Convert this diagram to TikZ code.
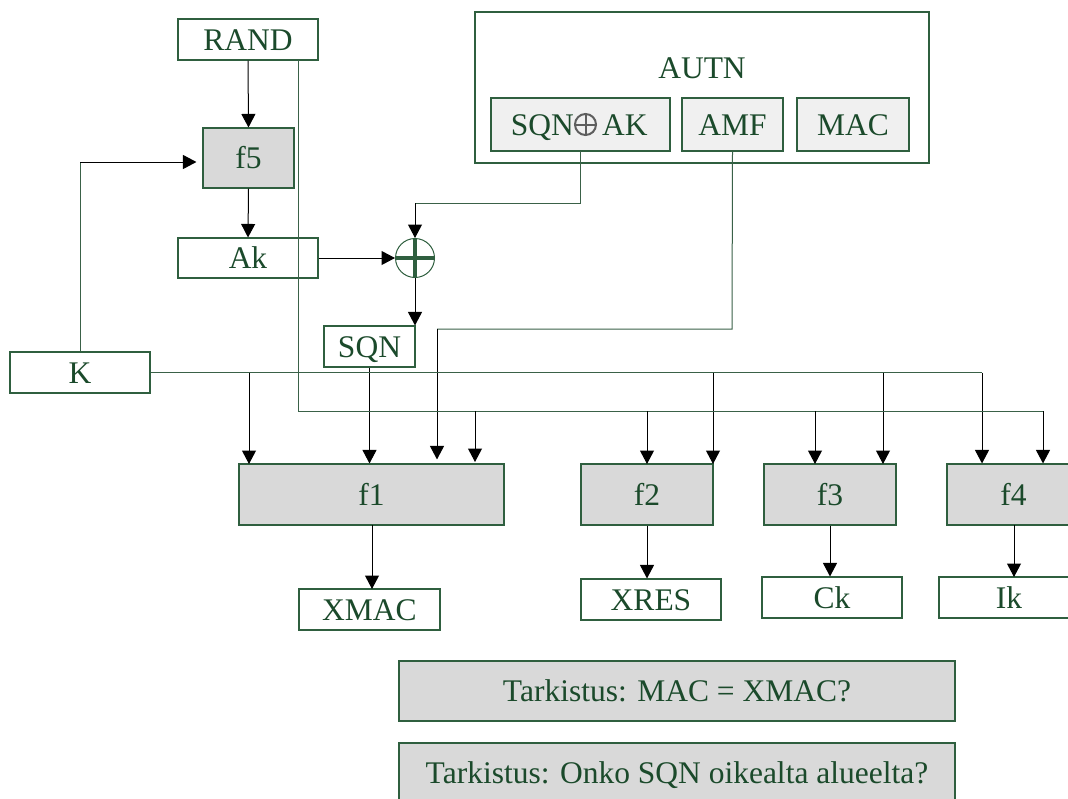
\documentclass[tikz,border=0pt]{standalone}
\usepackage{fontspec}
\setmainfont{Liberation Serif}
\usetikzlibrary{arrows.meta,calc}

\definecolor{txtgreen}{HTML}{1B4A2B}
\definecolor{edgegreen}{HTML}{2F5F3F}
\definecolor{wiregreen}{HTML}{3A6148}
\definecolor{fillgray}{HTML}{D9D9D9}
\definecolor{fillpale}{HTML}{F0F0F0}
\definecolor{symgray}{HTML}{5E5E5E}

\tikzset{
  lbl/.style={text=txtgreen, inner sep=0pt, font=\fontsize{31.5}{36}\selectfont},
  blk/.style={lbl, draw=edgegreen, line width=1.1pt, text height=21pt, text depth=0pt},
  fbox/.style={blk, fill=fillgray},
  subbox/.style={blk, fill=fillpale},
  plainbox/.style={blk, fill=white},
  wire/.style={draw=wiregreen, line width=1pt},
  feed/.style={draw=black, line width=1pt, -{Triangle[length=13.5pt,width=14pt]}},
}

\begin{document}
\begin{tikzpicture}[x=1pt,y=-1pt]
\useasboundingbox (0,0) rectangle (1068,798);
\clip (0,0) rectangle (1068,798);

% AUTN container and its fields
\node[plainbox, minimum width=454, minimum height=151] (autn) at (702,87.5) {};
\node[lbl, text height=21pt, text depth=0pt] (autnlbl) at (702,68) {AUTN};
\node[subbox, minimum width=179, minimum height=53] (sqnak) at (580.5,124.5) {};
\node[lbl, anchor=base east] (sqnpart) at (574,135.5) {SQN};
\node[lbl, anchor=base west] (akpart) at (602,135.5) {AK};
\node[circle, draw=symgray, line width=2pt, minimum size=21, inner sep=0pt] (xorsym) at (585.5,124.5) {};
\draw[symgray, line width=2pt] (xorsym.north) -- (xorsym.south) (xorsym.west) -- (xorsym.east);
\node[subbox, minimum width=101, minimum height=53] (amf) at (732.5,124.5) {AMF};
\node[subbox, minimum width=112, minimum height=53] (mac) at (853,124.5) {MAC};

% inputs and f5 branch
\node[plainbox, minimum width=140, minimum height=41] (rand) at (248,39.5) {RAND};
\node[fbox, minimum width=91, minimum height=60] (f5) at (248.5,158) {f5};
\node[plainbox, minimum width=140, minimum height=40] (ak) at (248,258) {Ak};
\node[plainbox, minimum width=140, minimum height=41] (k) at (80,372.5) {K};
\node[plainbox, minimum width=91, minimum height=41] (sqn) at (369.5,346.5) {SQN};

% xor
\node[circle, draw=edgegreen, line width=1pt, minimum size=39, inner sep=0pt] (xor) at (415,258) {};
\draw[edgegreen, line width=3.5pt] (xor.north) -- (xor.south) (xor.west) -- (xor.east);

% function blocks
\node[fbox, minimum width=265, minimum height=61] (f1) at (371.5,494.5) {f1};
\node[fbox, minimum width=132, minimum height=61] (f2) at (647,494.5) {f2};
\node[fbox, minimum width=132, minimum height=61] (f3) at (830,494.5) {f3};
\node[fbox, minimum width=133, minimum height=61] (f4) at (1013.5,494.5) {f4};

% outputs
\node[plainbox, minimum width=141, minimum height=41] (xmac) at (369.5,609.5) {XMAC};
\node[plainbox, minimum width=140, minimum height=41] (xres) at (651,599.5) {XRES};
\node[plainbox, minimum width=140, minimum height=41] (ck) at (832,597.5) {Ck};
\node[plainbox, minimum width=140, minimum height=41] (ik) at (1009,597.5) {Ik};

% checks
\node[fbox, minimum width=556, minimum height=60] (chk1) at (677,691) {Tarkistus: MAC = XMAC?};
\node[fbox, minimum width=556, minimum height=60] (chk2) at (677,773) {Tarkistus: Onko SQN oikealta alueelta?};

% RAND -> f5 -> Ak, K -> f5
\draw[feed] (rand.south) -- (f5.north);
\draw[feed] (f5.south) -- (ak.north);
\coordinate (kup) at (80,162);
\draw[wire] (k.north) -- (kup);
\draw[feed, shorten >=6pt] (kup) -- (kup -| f5.west);

% AK xor (SQN xor AK) = SQN
\draw[feed] (ak.east) -- (xor.west);
\coordinate (sqnakturn) at (580,203);
\draw[wire] (580,151) -- (sqnakturn) -- (sqnakturn -| xor.north);
\draw[feed] (sqnakturn -| xor.north) -- (xor.north);
\draw[feed] (xor.south) -- (xor.south |- sqn.north);

% AMF -> f1
\coordinate (amfturn) at (732,329);
\coordinate (amfdrop) at (437,329);
\draw[wire] (amf.south) -- (amfturn) -- (amfdrop);
\draw[feed, shorten >=4pt] (amfdrop) -- (amfdrop |- f1.north);

% SQN -> f1
\draw[feed] (sqn.south) -- (sqn.south |- f1.north);

% K bus
\coordinate (kbus) at (982,372.5);
\draw[wire] (k.east) -- (kbus);
\draw[feed] (kbus) -- (kbus |- f4.north);
\foreach \xx in {249, 713, 883}
  \draw[feed] (\xx,372.5) -- (\xx,464);

% RAND bus
\coordinate (rtop) at (298,60);
\coordinate (rbend) at (298,411);
\coordinate (rbus) at (1043,411);
\draw[wire] (rtop) -- (rbend) -- (rbus);
\draw[feed] (rbus) -- (rbus |- f4.north);
\draw[feed, shorten >=2pt] (475,411) -- (475,464);
\foreach \xx in {647, 815}
  \draw[feed] (\xx,411) -- (\xx,464);

% function outputs
\draw[feed] (372,525) -- (372,589);
\draw[feed] (f2.south) -- (f2.south |- xres.north);
\draw[feed] (f3.south) -- (f3.south |- ck.north);
\draw[feed] (1014,525) -- (1014,577);
\end{tikzpicture}
\end{document}
